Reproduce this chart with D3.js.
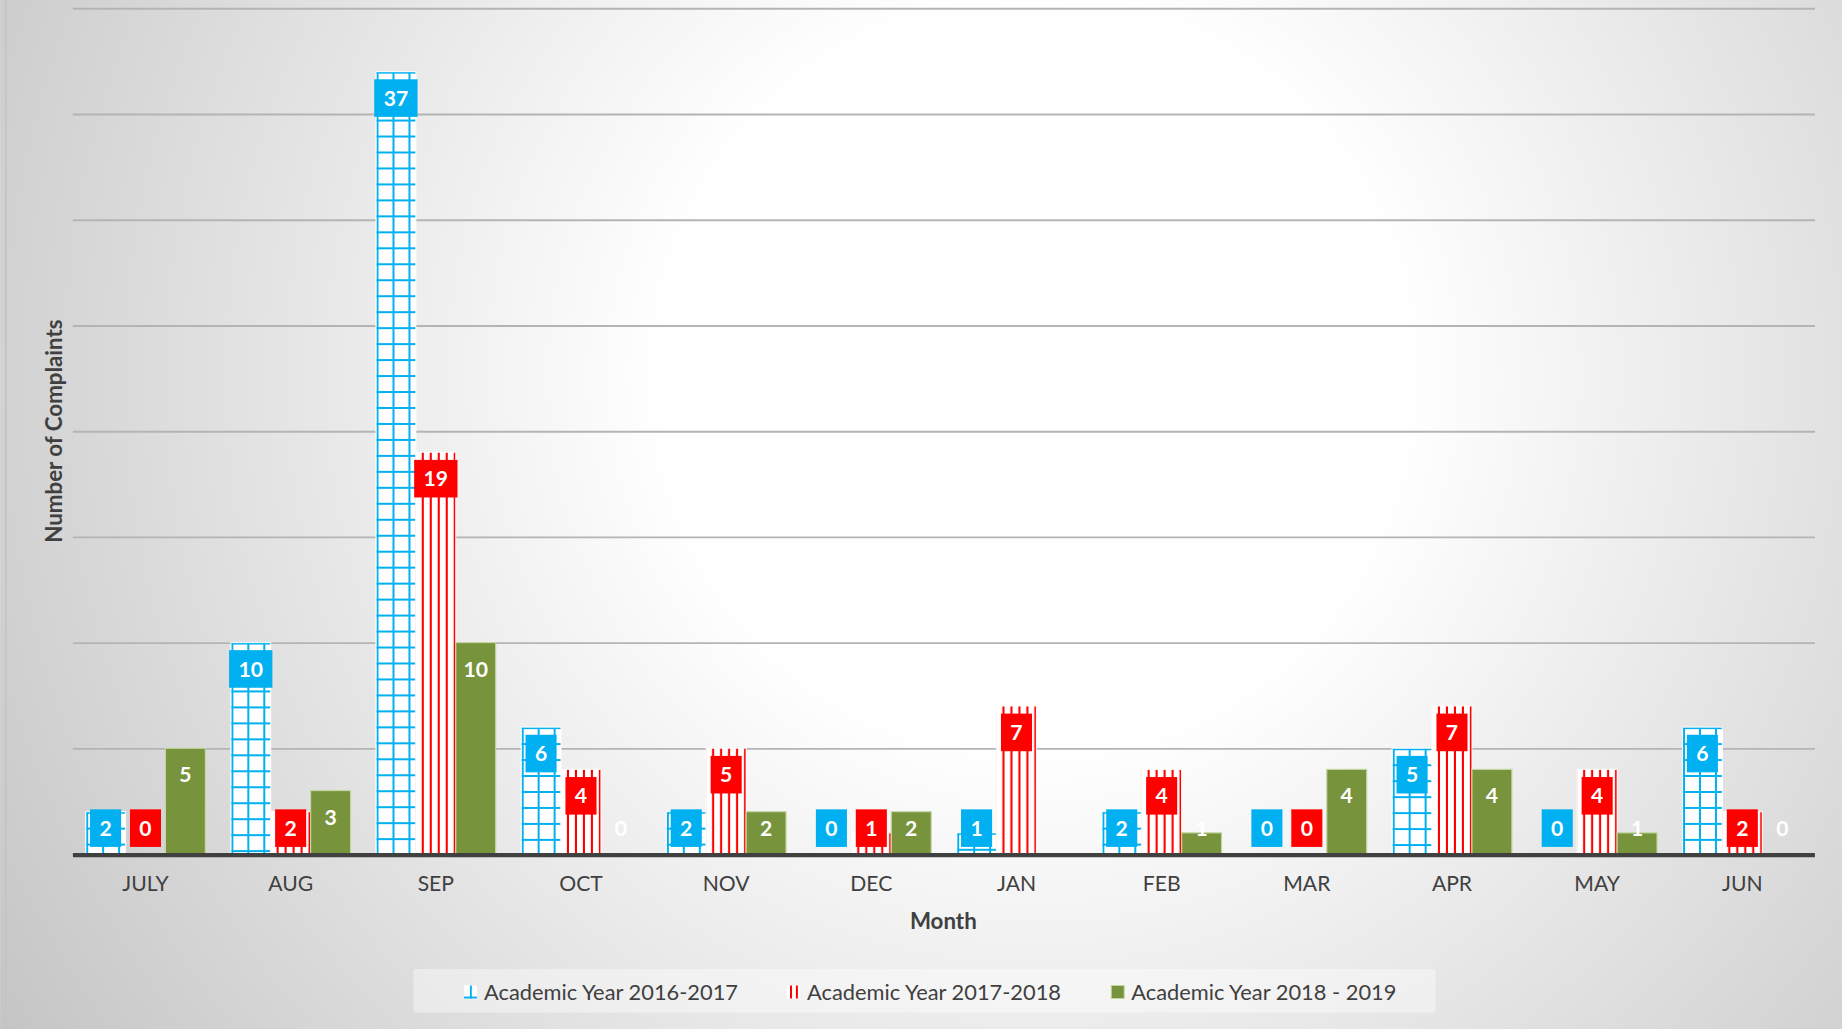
<!DOCTYPE html>
<html>
<head>
<meta charset="utf-8">
<script src="https://cdn.jsdelivr.net/npm/d3@7"></script>
<style>
  html, body { margin: 0; padding: 0; background: #fff; }
  svg { display: block; }
</style>
</head>
<body>
<div id="chart"></div>
<script>
const months = ["JULY", "AUG", "SEP", "OCT", "NOV", "DEC", "JAN", "FEB", "MAR", "APR", "MAY", "JUN"];
const seriesNames = ["Academic Year 2016-2017", "Academic Year 2017-2018", "Academic Year 2018 - 2019"];
const year2016 = [2, 10, 37, 6, 2, 0, 1, 2, 0, 5, 0, 6];
const year2017 = [0, 2, 19, 4, 5, 1, 7, 4, 0, 7, 4, 2];
const year2018 = [5, 3, 10, 0, 2, 2, null, 1, 4, 4, 1, 0];
const yTicks = [0, 5, 10, 15, 20, 25, 30, 35, 40];

const blue = "#00B0F0", red = "#FF0000", green = "#77933C";
const W = 1568, H = 876;

const svg = d3.select("#chart")
    .append("svg")
    .attr("width", 1842)
    .attr("height", 1029)
    .attr("viewBox", `0 0 ${W} ${H}`)
    .style("font-family", "Lato, 'Open Sans', sans-serif");

const defs = svg.append("defs");

// background glow
const bg = defs.append("radialGradient")
    .attr("id", "bg")
    .attr("gradientUnits", "userSpaceOnUse")
    .attr("cx", 880).attr("cy", 320).attr("r", 1050);
bg.append("stop").attr("offset", 0).attr("stop-color", "#ffffff");
bg.append("stop").attr("offset", 0.3).attr("stop-color", "#ffffff");
bg.append("stop").attr("offset", 1).attr("stop-color", "#c4c4c4");

svg.append("rect").attr("width", W).attr("height", H).attr("fill", "url(#bg)");
svg.append("line")
    .attr("x1", 5).attr("x2", 5).attr("y1", 0).attr("y2", H)
    .attr("stroke", "#c4c4c4").attr("stroke-width", 1.5);

const plotLeft = 62, plotRight = 1545, plotTop = 7, plotBottom = 727;

const y = d3.scaleLinear().domain([0, 40]).range([plotBottom, plotTop]);
const x0 = d3.scaleBand().domain(months).range([plotLeft, plotRight])
    .paddingInner(0.175).paddingOuter(0.0875);
const x1 = d3.scaleBand().domain([0, 1, 2]).range([0, x0.bandwidth()]);

// gridlines
svg.append("g")
    .attr("transform", `translate(${plotLeft},0)`)
    .call(d3.axisLeft(y).tickValues(yTicks.slice(1)).tickSize(-(plotRight - plotLeft)).tickFormat(""))
    .call(g => g.select(".domain").remove())
    .call(g => g.selectAll(".tick line").attr("stroke", "#b4b4b4").attr("stroke-width", 1.6));

const series = [
    { name: seriesNames[0], values: year2016, color: blue, kind: "grid" },
    { name: seriesNames[1], values: year2017, color: red, kind: "stripe" },
    { name: seriesNames[2], values: year2018, color: green, kind: "solid" }
];

const bars = [];
series.forEach((s, si) => {
    s.values.forEach((v, mi) => {
        if (v === null) return;
        bars.push({
            si, v, s,
            x: x0(months[mi]) + x1(si),
            barTop: y(v),
            id: `p${si}_${mi}`
        });
    });
});

const bw = x1.bandwidth();

// one pattern per bar so the pattern starts at the bar's corner
bars.filter(d => d.s.kind !== "solid").forEach(d => {
    if (d.s.kind === "grid") {
        const step = bw / 2.5;
        const p = defs.append("pattern")
            .attr("id", d.id)
            .attr("patternUnits", "userSpaceOnUse")
            .attr("x", d.x + 0.5).attr("y", d.barTop)
            .attr("width", step).attr("height", step);
        p.append("rect").attr("width", step).attr("height", step).attr("fill", "#fff");
        p.append("rect").attr("x", 0).attr("width", 1.7).attr("height", step).attr("fill", blue);
        p.append("rect").attr("y", 0).attr("width", step).attr("height", 1.7).attr("fill", blue);
    } else {
        const step = bw / 5;
        const p = defs.append("pattern")
            .attr("id", d.id)
            .attr("patternUnits", "userSpaceOnUse")
            .attr("x", d.x).attr("y", d.barTop)
            .attr("width", step).attr("height", 10);
        p.append("rect").attr("width", step).attr("height", 10).attr("fill", "#fff");
        p.append("rect").attr("x", step - 1.8).attr("width", 1.8).attr("height", 10).attr("fill", red);
    }
});

svg.append("g")
    .selectAll("rect")
    .data(bars.filter(d => d.v > 0))
    .join("rect")
    .attr("x", d => d.x)
    .attr("y", d => d.barTop)
    .attr("width", bw)
    .attr("height", d => plotBottom - d.barTop)
    .attr("fill", d => d.s.kind === "solid" ? green : `url(#${d.id})`)
    .attr("stroke", d => d.s.kind === "solid" ? "#c5d6a3" : "rgba(255,255,255,0.8)")
    .attr("stroke-width", 1);

// data labels
const labels = svg.append("g")
    .selectAll("g")
    .data(bars)
    .join("g")
    .attr("transform", d => `translate(${d.x + bw / 2},${Math.min(d.barTop + 22.5, 705)})`);

labels.filter(d => d.s.kind !== "solid")
    .append("rect")
    .attr("class", "box")
    .attr("y", -16)
    .attr("height", 32)
    .attr("fill", d => d.s.color);

labels.append("text")
    .attr("text-anchor", "middle")
    .attr("dy", "0.36em")
    .attr("fill", "#fff")
    .style("font-size", "18px")
    .style("font-weight", "bold")
    .text(d => d.v);

labels.each(function () {
    const g = d3.select(this);
    const w = g.select("text").node().getComputedTextLength() + 16;
    g.select("rect.box").attr("x", -w / 2).attr("width", w);
});

// baseline
svg.append("line")
    .attr("x1", plotLeft).attr("x2", plotRight)
    .attr("y1", plotBottom + 1).attr("y2", plotBottom + 1)
    .attr("stroke", "#404040").attr("stroke-width", 3.5);

// month labels
svg.append("g")
    .attr("transform", `translate(0,${plotBottom + 2})`)
    .call(d3.axisBottom(x0).tickSize(0).tickPadding(17))
    .call(g => g.select(".domain").remove())
    .call(g => g.selectAll("text")
        .attr("fill", "#404040")
        .style("font-family", "Lato, 'Open Sans', sans-serif")
        .style("font-size", "18px"));

svg.append("text")
    .attr("x", 803).attr("y", 791)
    .attr("text-anchor", "middle")
    .attr("fill", "#404040")
    .style("font-size", "19px").style("font-weight", "bold")
    .text("Month");

svg.append("text")
    .attr("transform", "translate(53,367) rotate(-90)")
    .attr("text-anchor", "middle")
    .attr("fill", "#404040")
    .style("font-size", "19px").style("font-weight", "bold")
    .text("Number of Complaints");

// legend
const legend = svg.append("g");
legend.append("rect")
    .attr("x", 352).attr("y", 825).attr("width", 870).attr("height", 37)
    .attr("fill", "#ffffff").attr("opacity", 0.4);

const legendX = [395, 670, 946];
const items = legend.selectAll("g.item")
    .data(series)
    .join("g")
    .attr("class", "item")
    .attr("transform", (d, i) => `translate(${legendX[i]},839)`);

items.each(function (d) {
    const g = d3.select(this);
    if (d.kind === "solid") {
        g.append("rect").attr("width", 11).attr("height", 11)
            .attr("fill", green).attr("stroke", "#c5d6a3").attr("stroke-width", 0.8);
    } else if (d.kind === "grid") {
        g.append("rect").attr("width", 11).attr("height", 11).attr("fill", "#fff");
        g.append("rect").attr("x", 5).attr("width", 1.6).attr("height", 11).attr("fill", blue);
        g.append("rect").attr("y", 9.4).attr("width", 11).attr("height", 1.6).attr("fill", blue);
    } else {
        g.append("rect").attr("width", 11).attr("height", 11).attr("fill", "#fff");
        g.append("rect").attr("x", 2.5).attr("width", 1.7).attr("height", 11).attr("fill", red);
        g.append("rect").attr("x", 7.5).attr("width", 1.7).attr("height", 11).attr("fill", red);
    }
});

items.append("text")
    .attr("x", 17).attr("y", 12)
    .attr("fill", "#404040")
    .style("font-size", "18.6px")
    .text(d => d.name);
</script>
</body>
</html>
